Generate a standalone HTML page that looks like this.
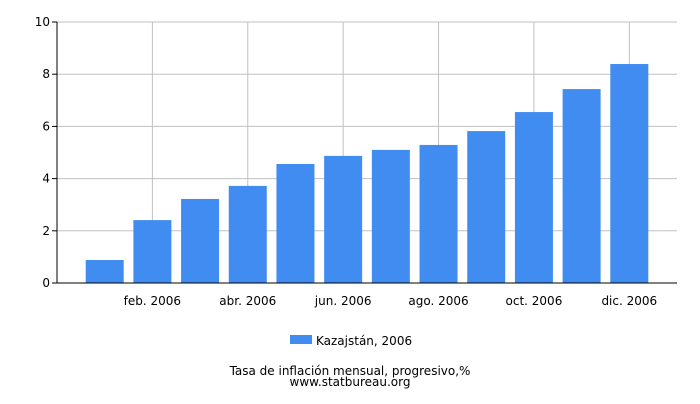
<!DOCTYPE html>
<html><head><meta charset="utf-8"><style>
body{margin:0;background:#fff;font-family:"DejaVu Sans","Liberation Sans",sans-serif;}
svg text{font-family:"DejaVu Sans","Liberation Sans",sans-serif;fill:#000;}
</style></head><body>
<svg id="chart" width="700" height="400" viewBox="0 0 700 400" xmlns="http://www.w3.org/2000/svg">
<g id="grid"></g>
<g id="bars"></g>
<g id="axes"></g>
<g>
<rect x="290" y="335" width="22" height="9" fill="#418cf0"/>
<text x="316" y="345" font-size="12">Kazajstán, 2006</text>
</g>
<text x="350" y="375" font-size="12" text-anchor="middle">Tasa de inflación mensual, progresivo,%</text>
<text x="350" y="386" font-size="12" text-anchor="middle">www.statbureau.org</text>
</svg>
<script>
const categories=["ene. 2006","feb. 2006","mar. 2006","abr. 2006","may. 2006","jun. 2006","jul. 2006","ago. 2006","sep. 2006","oct. 2006","nov. 2006","dic. 2006"];
const values=[0.88,2.41,3.22,3.72,4.56,4.87,5.10,5.29,5.82,6.55,7.43,8.39];
const yTicks=[0,2,4,6,8,10];
const NS="http://www.w3.org/2000/svg";
const L=57,R=677,T=22,B=283,yMax=10;
const slot=(R-L)/13;
const x=i=>L+slot*(i+1);
const y=v=>B-(v/yMax)*(B-T);
function mk(tag,attrs,parent){const e=document.createElementNS(NS,tag);for(const k in attrs)e.setAttribute(k,attrs[k]);parent.appendChild(e);return e;}
const grid=document.getElementById('grid'),bars=document.getElementById('bars'),axes=document.getElementById('axes');
yTicks.forEach(t=>{
 const g=mk('line',{x1:L,x2:R,y1:y(t),y2:y(t),stroke:'#c0c0c0','stroke-width':1},grid);
 
 
 const tk=mk('line',{x1:L-5,x2:L,y1:y(t),y2:y(t),stroke:'#000'},axes);
 
 
 const tx=mk('text',{x:L-7,y:y(t)+4,'font-size':12,'text-anchor':'end'},axes);
 tx.textContent=t;
 
 
});
categories.forEach((c,i)=>{
 if(i%2===1){
  const g=mk('line',{x1:x(i),x2:x(i),y1:T,y2:B,stroke:'#c0c0c0'},grid);
  
  
  const tx=mk('text',{x:x(i),y:305,'font-size':12,'text-anchor':'middle'},axes);
  tx.textContent=c;
  
  
 }
 const b=mk('rect',{x:x(i)-19,width:38,y:y(values[i]),height:B-y(values[i]),fill:'#418cf0'},bars);
 
 
});
const ya=mk('line',{x1:L,x2:L,y1:T,y2:B,stroke:'#000'},axes);


const xa=mk('line',{x1:L,x2:R,y1:B,y2:B,stroke:'#000'},axes);


</script>
</body></html>
